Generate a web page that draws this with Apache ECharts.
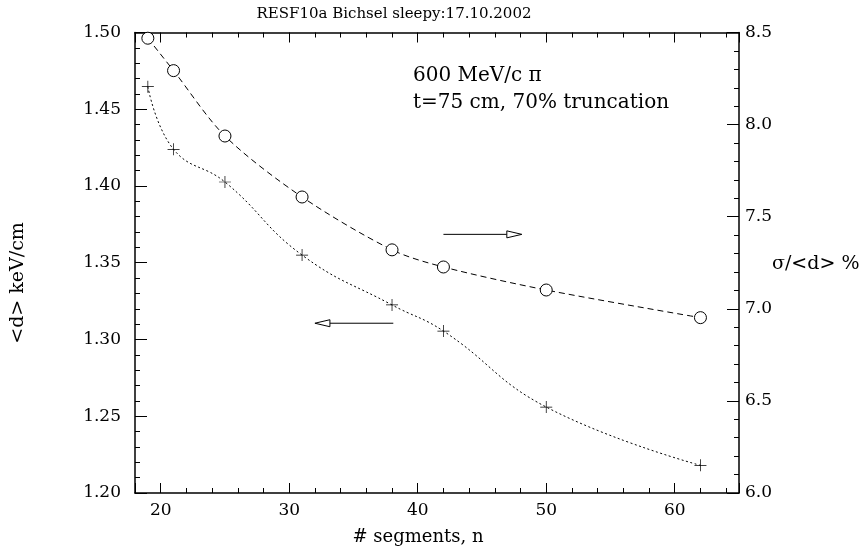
<!DOCTYPE html>
<html><head><meta charset="utf-8">
<script src="https://cdn.jsdelivr.net/npm/echarts@6/dist/echarts.min.js"></script>
<style>html,body{margin:0;padding:0;background:#fff}#c{width:861px;height:552px}</style>
</head><body><div id="c"></div>
<script>
// data
const segments = [19, 21, 25, 31, 38, 42, 50, 62];
const meanD = [1.4647, 1.4239, 1.4026, 1.355, 1.3225, 1.3055, 1.256, 1.218];     // <d> keV/cm (left axis, +)
const sigmaRel = [8.469, 8.293, 7.938, 7.607, 7.32, 7.227, 7.102, 6.952];        // sigma/<d> % (right axis, o)
const titleText = 'RESF10a Bichsel sleepy:17.10.2002';
const noteLines = ['600 MeV/c \u03c0', 't=75 cm, 70% truncation'];
const xName = '# segments, n';
const yLeftName = '<d> keV/cm';
const yRightName = '\u03c3/<d> %';
// annotation anchors in data coords (x, left-axis y)
const noteAnchor = [[39.63, 1.4717], [39.63, 1.4541]];
const arrowRight = [[42.0, 1.3685], [48.1, 1.3685]];
const arrowLeft = [[38.1, 1.3106], [32.0, 1.3106]];

const FONT = 'DejaVu Serif';
const chart = echarts.init(document.getElementById('c'), null, {renderer: 'canvas'});

const axisLine = {show: true, lineStyle: {color: '#000', width: 1.5}};
function xAx(pos, labels) {
  return {
    type: 'value', position: pos, min: 18, max: 65, splitNumber: 5,
    axisLine: axisLine,
    axisTick: {show: true, inside: true, length: 10, lineStyle: {color: '#000', width: 1}},
    minorTick: {show: true, splitNumber: 5, length: 5, lineStyle: {color: '#000', width: 1}},
    splitLine: {show: false}, minorSplitLine: {show: false},
    axisLabel: {show: labels, margin: 9, color: '#000', fontFamily: FONT, fontSize: 17,
      formatter: v => (Math.abs(v % 10) < 1e-9 ? String(v) : '')}
  };
}
function yAx(pos, min, max, interval, digits, margin) {
  return {
    type: 'value', position: pos, min: min, max: max, interval: interval,
    axisLine: axisLine,
    axisTick: {show: true, inside: true, length: 12, lineStyle: {color: '#000', width: 1}},
    minorTick: {show: true, splitNumber: 5, length: 5, lineStyle: {color: '#000', width: 1}},
    splitLine: {show: false}, minorSplitLine: {show: false},
    axisLabel: {margin: margin, color: '#000', fontFamily: FONT, fontSize: 17,
      formatter: v => v.toFixed(digits)}
  };
}
const plusPath = 'path://M-0.06,-1H0.06V1H-0.06Z M-1,-0.06H1V0.06H-1Z';

chart.setOption({
  animation: false,
  backgroundColor: '#fff',
  title: {text: titleText, left: 389, top: 2, textAlign: 'center',
    textStyle: {fontFamily: FONT, fontSize: 15, fontWeight: 'normal', color: '#000'}},
  grid: {left: 135, right: 122, top: 32.5, bottom: 59, containLabel: false},
  xAxis: [xAx('bottom', true), xAx('top', false)],
  yAxis: [yAx('left', 1.2, 1.5, 0.05, 2, 14), yAx('right', 6.0, 8.5, 0.5, 1, 6)],
  series: [
    {type: 'line', name: 'd', xAxisIndex: 0, yAxisIndex: 0, smooth: 0.45,
      data: segments.map((s, i) => [s, meanD[i]]),
      symbol: plusPath, symbolSize: 12,
      itemStyle: {color: '#000'},
      lineStyle: {color: '#000', width: 1, type: [2, 2.5]}},
    {type: 'line', name: 's', xAxisIndex: 0, yAxisIndex: 1, smooth: 0.3,
      data: segments.map((s, i) => [s, sigmaRel[i]]),
      symbol: 'circle', symbolSize: 12,
      itemStyle: {color: '#fff', borderColor: '#000', borderWidth: 1},
      lineStyle: {color: '#000', width: 1, type: [6, 4]}}
  ]
});

function px(p) { return chart.convertToPixel({xAxisIndex: 0, yAxisIndex: 0}, p); }
function arrow(pts) {
  const a = px(pts[0]), b = px(pts[1]);
  const dir = b[0] > a[0] ? 1 : -1;
  const headLen = 15, headHalf = 3.5;
  const base = b[0] - dir * headLen;
  return [
    {type: 'line', shape: {x1: a[0], y1: a[1], x2: base, y2: b[1]}, style: {stroke: '#000', lineWidth: 1}},
    {type: 'polygon', shape: {points: [[base, b[1] - headHalf], [b[0], b[1]], [base, b[1] + headHalf]]},
      style: {fill: '#fff', stroke: '#000', lineWidth: 1}}
  ];
}
const g = [];
noteLines.forEach((t, i) => {
  const p = px(noteAnchor[i]);
  g.push({type: 'text', x: p[0], y: p[1], style: {text: t, fill: '#000', font: '20px "' + FONT + '"',
    textAlign: 'left', textVerticalAlign: 'middle'}});
});
g.push(...arrow(arrowRight), ...arrow(arrowLeft));
g.push({type: 'text', x: 418, y: 537, style: {text: xName, fill: '#000', font: '18px "' + FONT + '"',
  textAlign: 'center', textVerticalAlign: 'middle'}});
g.push({type: 'text', x: 18, y: 283, rotation: Math.PI / 2, style: {text: yLeftName, fill: '#000',
  font: '19px "' + FONT + '"', textAlign: 'center', textVerticalAlign: 'middle'}});
g.push({type: 'text', x: 772, y: 264, style: {text: yRightName, fill: '#000', font: '19px "' + FONT + '"',
  textAlign: 'left', textVerticalAlign: 'middle'}});
chart.setOption({graphic: g});
</script></body></html>
